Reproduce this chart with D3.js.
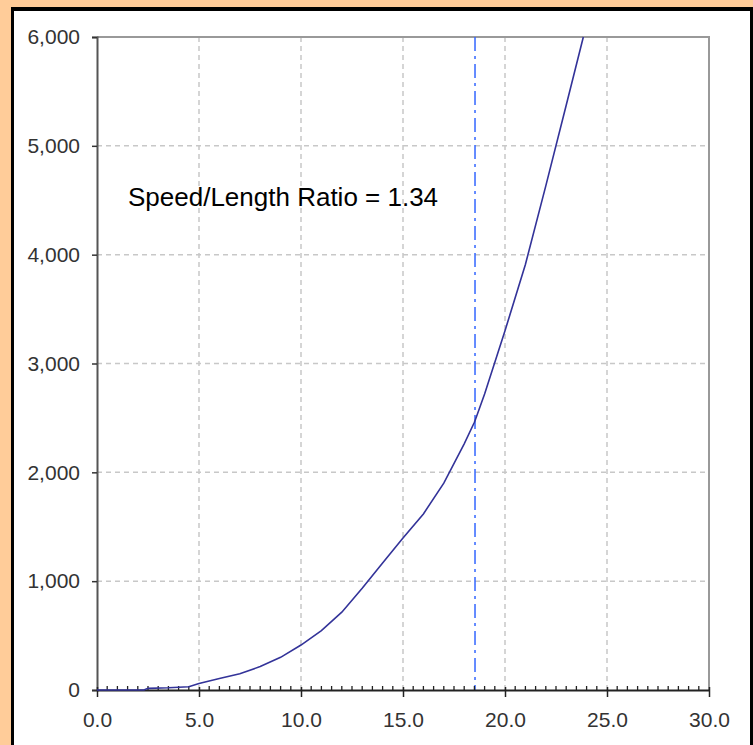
<!DOCTYPE html>
<html>
<head>
<meta charset="utf-8">
<script src="https://cdn.jsdelivr.net/npm/d3@7"></script>
<style>
  html, body { margin: 0; padding: 0; background: #ffcc99; }
  svg { display: block; }
</style>
</head>
<body>
<svg id="chart" width="753" height="745"></svg>
<script>
// values
const speeds     = [0, 2.3, 2.5, 3.5, 4.5, 5, 6, 7, 8, 9, 10, 11, 12, 13, 14, 15, 16, 17, 18, 18.5, 18.6, 19, 20, 21, 22, 23, 23.84];
const resistance = [0, 0, 15, 20, 30, 60, 105, 150, 215, 300, 413, 545, 715, 935, 1167, 1397, 1618, 1900, 2262, 2460, 2510, 2720, 3300, 3910, 4632, 5373, 6000];
const xTicks = [0, 5, 10, 15, 20, 25, 30];
const yTicks = [0, 1000, 2000, 3000, 4000, 5000, 6000];
const ratioSpeed = 18.53;
const label = "Speed/Length Ratio = 1.34";

const svg = d3.select("#chart");

// frame
svg.append("rect").attr("x", 0).attr("y", 0).attr("width", 753).attr("height", 745).attr("fill", "#ffcc99");
svg.append("rect").attr("x", 11).attr("y", 7).attr("width", 742).attr("height", 760).attr("fill", "#000");
svg.append("rect").attr("x", 14).attr("y", 11).attr("width", 736).attr("height", 760).attr("fill", "#fff");

const x = d3.scaleLinear().domain([0, 30]).range([97, 709]);
const y = d3.scaleLinear().domain([0, 6000]).range([690, 37]);

// grid
const grid = svg.append("g")
  .attr("stroke", "#c8c8c8")
  .attr("stroke-width", 1.5)
  .attr("stroke-dasharray", "5,4");
grid.selectAll("line.v")
  .data(xTicks.filter(d => d > 0 && d < 30))
  .enter().append("line")
  .attr("x1", d => x(d)).attr("x2", d => x(d))
  .attr("y1", y(6000)).attr("y2", y(0));
grid.selectAll("line.h")
  .data(yTicks.filter(d => d > 0 && d < 6000))
  .enter().append("line")
  .attr("x1", x(0)).attr("x2", x(30))
  .attr("y1", d => y(d)).attr("y2", d => y(d));

// top / right border
svg.append("path")
  .attr("d", `M${x(0)},${y(6000)}H${x(30)}V${y(0)}`)
  .attr("fill", "none")
  .attr("stroke", "#999")
  .attr("stroke-width", 2);

// ratio line
svg.append("line")
  .attr("x1", x(ratioSpeed)).attr("x2", x(ratioSpeed))
  .attr("y1", y(6000)).attr("y2", y(0))
  .attr("stroke", "#3366ff")
  .attr("stroke-width", 1.5)
  .attr("stroke-dasharray", "14,5,3,5");

// y axis
const yAxis = svg.append("g")
  .attr("transform", `translate(${x(0)},0)`)
  .call(d3.axisLeft(y).tickValues(yTicks).tickSize(5).tickPadding(12).tickFormat(d3.format(",")));
yAxis.select(".domain").attr("stroke", "#555").attr("stroke-width", 2);
yAxis.selectAll(".tick line").attr("stroke", "#333").attr("stroke-width", 1.5);

// x axis minor ticks (every 0.5, pointing up)
const minor = d3.range(0, 30.01, 0.5).filter(d => d % 5 !== 0);
svg.append("g").selectAll("line")
  .data(minor)
  .enter().append("line")
  .attr("x1", d => x(d)).attr("x2", d => x(d))
  .attr("y1", y(0) - 4).attr("y2", y(0))
  .attr("stroke", "#222")
  .attr("stroke-width", 1.3);

const xAxis = svg.append("g")
  .attr("transform", `translate(0,${y(0)})`)
  .call(d3.axisBottom(x).tickValues(xTicks).tickSizeInner(7).tickSizeOuter(0).tickPadding(15).tickFormat(d3.format(".1f")));
xAxis.select(".domain").attr("stroke", "#222").attr("stroke-width", 2);
xAxis.selectAll(".tick line").attr("stroke", "#222").attr("stroke-width", 1.5).attr("y1", -3);

svg.selectAll(".tick text")
  .attr("font-family", "'Liberation Sans', Arial, sans-serif")
  .attr("font-size", 21)
  .attr("fill", "#333");

// curve, drawn on top of the axis
const line = d3.line()
  .x((d, i) => x(speeds[i]))
  .y(d => y(d));
svg.append("path")
  .datum(resistance)
  .attr("fill", "none")
  .attr("stroke", "#333399")
  .attr("stroke-width", 1.6)
  .attr("d", line);

// annotation
svg.append("text")
  .attr("x", x(1.52))
  .attr("y", y(4447))
  .attr("font-family", "'Liberation Sans', Arial, sans-serif")
  .attr("font-size", 26)
  .attr("fill", "#000")
  .text(label);
</script>
</body>
</html>
